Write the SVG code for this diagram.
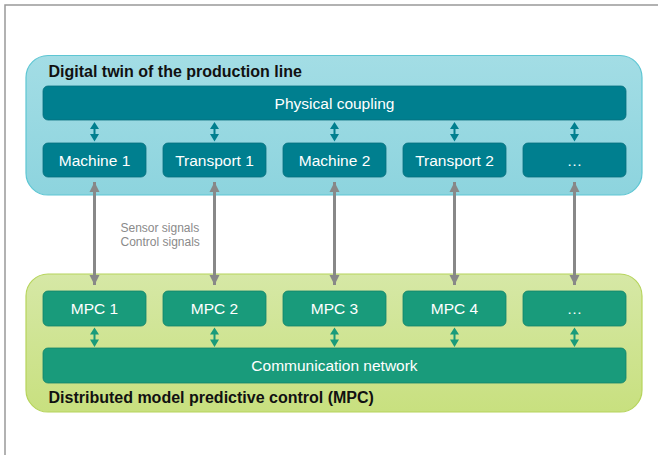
<svg xmlns="http://www.w3.org/2000/svg" width="658" height="455" viewBox="0 0 658 455">
<defs>
<linearGradient id="gTop" x1="0" y1="0" x2="0" y2="1"><stop offset="0" stop-color="#a3dde5"/><stop offset="1" stop-color="#8dd4de"/></linearGradient>
<linearGradient id="gBot" x1="0" y1="0" x2="0" y2="1"><stop offset="0" stop-color="#d6e8a6"/><stop offset="1" stop-color="#c8e07f"/></linearGradient>
<marker id="ah" viewBox="0 0 10 10" refX="10" refY="5" markerWidth="3.4" markerHeight="3.4" orient="auto-start-reverse" markerUnits="strokeWidth"><path d="M0,0 L10,5 L0,10 z" fill="#888888"/></marker>
</defs>
<style>
.frame{fill:none;stroke:#999;stroke-width:1.5}
.cTop{fill:url(#gTop);stroke:#5ec6d3;stroke-width:1.2}
.cBot{fill:url(#gBot);stroke:#b6d45c;stroke-width:1.2}
.tb{fill:#007f8f;stroke:#06707d;stroke-width:0.8}
.gb{fill:#199b7b;stroke:#11836a;stroke-width:0.8}
.lbl{font-family:"Liberation Sans",Arial,sans-serif;font-size:15.5px;fill:#fff;text-anchor:middle}
.ttl{font-family:"Liberation Sans",Arial,sans-serif;font-size:16px;font-weight:bold;fill:#111}
.sig{font-family:"Liberation Sans",Arial,sans-serif;font-size:12px;fill:#8a8a8a}
.gl{stroke:#888;stroke-width:3;fill:none}
</style>
<path class="frame" d="M5,455 L5,5 L658,5"/>
<g id="digital-twin">
<rect class="cTop" x="26" y="55.5" width="616" height="139.5" rx="22"/>
<text class="ttl" x="48.5" y="76.5">Digital twin of the production line</text>
</g>
<g id="physical-coupling"><rect class="tb" x="43" y="86" width="583" height="34" rx="5"/><text class="lbl" x="334.5" y="108.5">Physical coupling</text></g>
<g id="machine1"><rect class="tb" x="43" y="143" width="103" height="34" rx="5"/><text class="lbl" x="94.5" y="166">Machine 1</text></g>
<g id="transport1"><rect class="tb" x="163" y="143" width="103" height="34" rx="5"/><text class="lbl" x="214.5" y="166">Transport 1</text></g>
<g id="machine2"><rect class="tb" x="283" y="143" width="103" height="34" rx="5"/><text class="lbl" x="334.5" y="166">Machine 2</text></g>
<g id="transport2"><rect class="tb" x="403" y="143" width="103" height="34" rx="5"/><text class="lbl" x="454.5" y="166">Transport 2</text></g>
<g id="machine-more"><rect class="tb" x="523" y="143" width="103" height="34" rx="5"/><text class="lbl" x="574.5" y="166">…</text></g>
<g id="mpc-container">
<rect class="cBot" x="26" y="274" width="616" height="138" rx="22"/>
<text class="ttl" x="48.5" y="403">Distributed model predictive control (MPC)</text>
</g>
<g id="mpc1"><rect class="gb" x="43" y="291" width="103" height="35" rx="5"/><text class="lbl" x="94.5" y="314">MPC 1</text></g>
<g id="mpc2"><rect class="gb" x="163" y="291" width="103" height="35" rx="5"/><text class="lbl" x="214.5" y="314">MPC 2</text></g>
<g id="mpc3"><rect class="gb" x="283" y="291" width="103" height="35" rx="5"/><text class="lbl" x="334.5" y="314">MPC 3</text></g>
<g id="mpc4"><rect class="gb" x="403" y="291" width="103" height="35" rx="5"/><text class="lbl" x="454.5" y="314">MPC 4</text></g>
<g id="mpc-more"><rect class="gb" x="523" y="291" width="103" height="35" rx="5"/><text class="lbl" x="574.5" y="314">…</text></g>
<g id="comm-network"><rect class="gb" x="43" y="348" width="583" height="35" rx="5"/><text class="lbl" x="334.5" y="371">Communication network</text></g>
<g id="connectors">
<g fill="#007f8f">
<path d="M94.5,122 l4.5,7 h-3.5 v5 h3.5 l-4.5,7.5 l-4.5,-7.5 h3.5 v-5 h-3.5 z"/>
<path d="M214.5,122 l4.5,7 h-3.5 v5 h3.5 l-4.5,7.5 l-4.5,-7.5 h3.5 v-5 h-3.5 z"/>
<path d="M334.5,122 l4.5,7 h-3.5 v5 h3.5 l-4.5,7.5 l-4.5,-7.5 h3.5 v-5 h-3.5 z"/>
<path d="M454.5,122 l4.5,7 h-3.5 v5 h3.5 l-4.5,7.5 l-4.5,-7.5 h3.5 v-5 h-3.5 z"/>
<path d="M574.5,122 l4.5,7 h-3.5 v5 h3.5 l-4.5,7.5 l-4.5,-7.5 h3.5 v-5 h-3.5 z"/>
</g>
<g fill="#199b7b">
<path d="M94.5,327.5 l4.5,7 h-3.5 v5 h3.5 l-4.5,7.5 l-4.5,-7.5 h3.5 v-5 h-3.5 z"/>
<path d="M214.5,327.5 l4.5,7 h-3.5 v5 h3.5 l-4.5,7.5 l-4.5,-7.5 h3.5 v-5 h-3.5 z"/>
<path d="M334.5,327.5 l4.5,7 h-3.5 v5 h3.5 l-4.5,7.5 l-4.5,-7.5 h3.5 v-5 h-3.5 z"/>
<path d="M454.5,327.5 l4.5,7 h-3.5 v5 h3.5 l-4.5,7.5 l-4.5,-7.5 h3.5 v-5 h-3.5 z"/>
<path d="M574.5,327.5 l4.5,7 h-3.5 v5 h3.5 l-4.5,7.5 l-4.5,-7.5 h3.5 v-5 h-3.5 z"/>
</g>
<g class="gl">
<line x1="94.5" y1="182" x2="94.5" y2="285" marker-start="url(#ah)" marker-end="url(#ah)"/>
<line x1="214.5" y1="182" x2="214.5" y2="285" marker-start="url(#ah)" marker-end="url(#ah)"/>
<line x1="334.5" y1="182" x2="334.5" y2="285" marker-start="url(#ah)" marker-end="url(#ah)"/>
<line x1="454.5" y1="182" x2="454.5" y2="285" marker-start="url(#ah)" marker-end="url(#ah)"/>
<line x1="574.5" y1="182" x2="574.5" y2="285" marker-start="url(#ah)" marker-end="url(#ah)"/>
</g>
<text class="sig" x="120.5" y="232">Sensor signals</text>
<text class="sig" x="120.5" y="246">Control signals</text>
</g>
</svg>
